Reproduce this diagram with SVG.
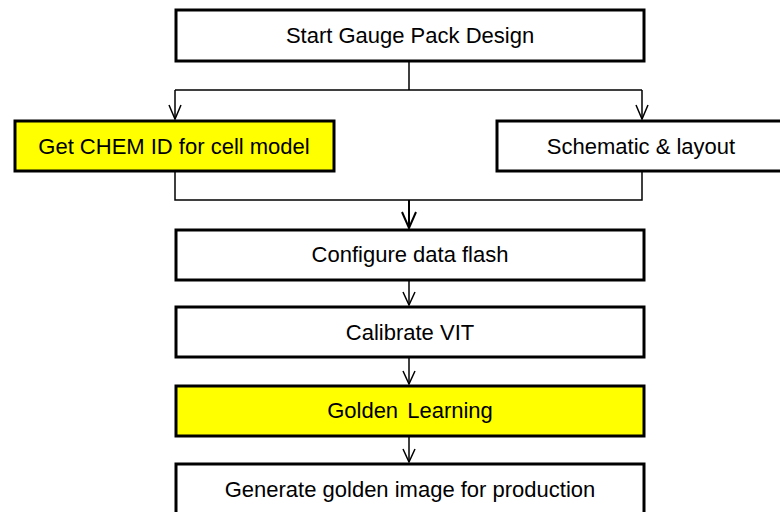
<svg xmlns="http://www.w3.org/2000/svg" width="780" height="512" viewBox="0 0 780 512">
<style>
.box{stroke:#000;stroke-width:3;fill:#fff}
.hl{fill:#ffff00}
.t{font-family:"Liberation Sans",Arial,sans-serif;font-size:22px;fill:#000;text-anchor:middle}
.c{stroke:#000;stroke-width:1.5;fill:none}
.ah{stroke:#000;stroke-width:1.5;fill:none}
</style>
<rect width="780" height="512" fill="#fff"/>
<g id="connectors">
<path class="c" d="M409 61V90M175 90H642M175 90V119M642 90V119"/>
<path class="ah" d="M169 105L175 119L181 105M636 105L642 119L648 105"/>
<path class="c" d="M175 172V200H642V172"/>
<path class="c" style="stroke-width:2" d="M409 200V228"/>
<path class="ah" style="stroke-width:2" d="M402 212L409 228L416 212"/>
<path class="c" d="M409 281V305"/>
<path class="ah" d="M403 292L409 305L415 292"/>
<path class="c" d="M409 357V384"/>
<path class="ah" d="M403 371L409 384L415 371"/>
<path class="c" d="M409 437V462"/>
<path class="ah" d="M403 449L409 462L415 449"/>
</g>
<g id="start"><rect class="box" x="176" y="10" width="468" height="51"/><text class="t" x="410" y="43">Start Gauge Pack Design</text></g>
<g id="chem"><rect class="box hl" x="15" y="121" width="319" height="50"/><text class="t" x="174" y="154">Get CHEM ID for cell model</text></g>
<g id="schematic"><rect class="box" x="497" y="121" width="290" height="50"/><text class="t" x="641" y="154">Schematic &amp; layout</text></g>
<g id="configure"><rect class="box" x="176" y="230" width="468" height="50"/><text class="t" x="410" y="262">Configure data flash</text></g>
<g id="calibrate"><rect class="box" x="176" y="307" width="468" height="50"/><text class="t" x="410" y="340">Calibrate VIT</text></g>
<g id="golden"><rect class="box hl" x="176" y="386" width="468" height="50"/><text class="t" x="410" y="418" style="word-spacing:3px">Golden Learning</text></g>
<g id="generate"><rect class="box" x="176" y="464" width="468" height="60"/><text class="t" x="410" y="497">Generate golden image for production</text></g>
</svg>
